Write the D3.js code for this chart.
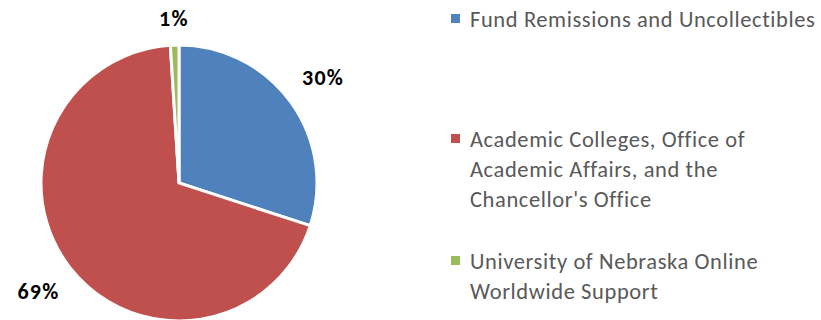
<!DOCTYPE html>
<html>
<head>
<meta charset="utf-8">
<script src="https://cdn.jsdelivr.net/npm/d3@7"></script>
<style>
  html, body { margin: 0; padding: 0; background: #fff; }
  svg { display: block; }
</style>
</head>
<body>
<svg id="chart" width="821" height="320"></svg>
<script>
// Budget share by recipient
const categories = [
  "Fund Remissions and Uncollectibles",
  "Academic Colleges, Office of Academic Affairs, and the Chancellor's Office",
  "University of Nebraska Online Worldwide Support"
];
const legendLines = [
  ["Fund Remissions and Uncollectibles"],
  ["Academic Colleges, Office of", "Academic Affairs, and the", "Chancellor's Office"],
  ["University of Nebraska Online", "Worldwide Support"]
];
const values = [30, 69, 1];
const colors = ["#4F81BD", "#C0504D", "#9BBB59"];

const svg = d3.select("#chart");
const font = "Carlito, Calibri, Lato, sans-serif";

const cx = 179, cy = 183, radius = 138;

const pie = d3.pie().sort(null).value(d => d.value);
const arcs = pie(values.map((v, i) => ({ value: v, i })));
const arc = d3.arc().innerRadius(0).outerRadius(radius);

const g = svg.append("g").attr("transform", `translate(${cx},${cy})`);

g.selectAll("path.slice")
  .data(arcs)
  .join("path")
  .attr("class", "slice")
  .attr("d", arc)
  .attr("fill", d => colors[d.data.i])
  .attr("stroke", "#fff")
  .attr("stroke-width", 3)
  .attr("stroke-linejoin", "miter");

// Percentage labels outside each slice, pushed out by their own box size
const fmt = d3.format(".0%");
const total = d3.sum(values);
const gap = 19;
const labels = g.selectAll("text.pct")
  .data(arcs)
  .join("text")
  .attr("class", "pct")
  .attr("text-anchor", "middle")
  .attr("font-family", font)
  .attr("font-weight", "bold")
  .attr("font-size", 22)
  .attr("letter-spacing", 1.2)
  .attr("fill", "#000")
  .text(d => fmt(d.data.value / total));

labels.each(function(d) {
  const el = d3.select(this);
  const w = this.getComputedTextLength();
  const h = 14; // cap height
  const a = (d.startAngle + d.endAngle) / 2;
  const sx = Math.sin(a), sy = -Math.cos(a);
  const dist = radius + gap + (w / 2) * Math.abs(sx) + (h / 2) * Math.abs(sy);
  el.attr("x", sx * dist).attr("y", sy * dist + h / 2);
});

// Legend
const legendX = 451, textX = 470, lineH = 30;
const legendTop = [27, 147, 269];
const legend = svg.append("g");
legendLines.forEach((lines, i) => {
  const base = legendTop[i];
  legend.append("rect")
    .attr("x", legendX)
    .attr("y", base - 13)
    .attr("width", 9)
    .attr("height", 9)
    .attr("fill", colors[i]);
  const t = legend.append("text")
    .attr("font-family", font)
    .attr("font-size", 22.5)
    .attr("letter-spacing", 0.6)
    .attr("fill", "#595959");
  lines.forEach((line, j) => {
    t.append("tspan")
      .attr("x", textX)
      .attr("y", base + j * lineH)
      .text(line);
  });
});
</script>
</body>
</html>
